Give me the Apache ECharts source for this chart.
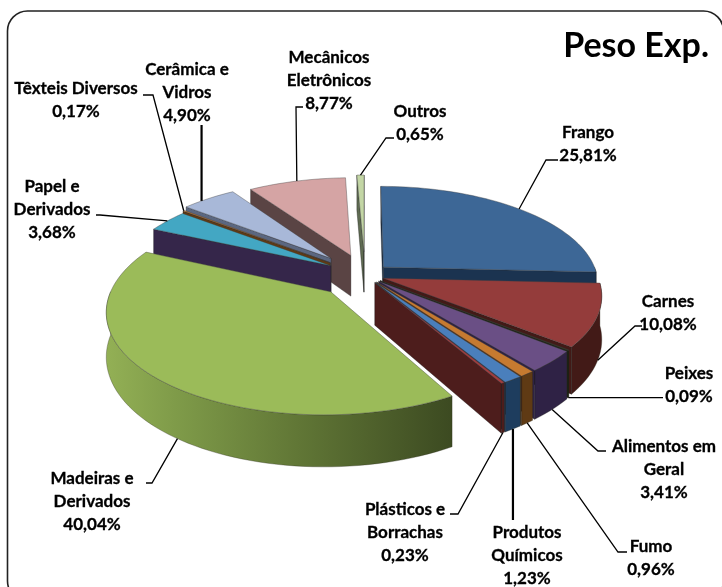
<!DOCTYPE html>
<html>
<head>
<meta charset="utf-8">
<style>
  html, body { margin: 0; padding: 0; background: #fff; }
  #chart { width: 722px; height: 587px; }
</style>
<script src="https://cdn.jsdelivr.net/npm/echarts@6/dist/echarts.min.js"></script>
</head>
<body>
<div id="chart"></div>
<script>
// slice order follows the pie clockwise from 12 o'clock
const categories = ['Frango', 'Carnes', 'Peixes', 'Alimentos em\nGeral', 'Fumo', 'Produtos\nQuímicos', 'Plásticos e\nBorrachas', 'Madeiras e\nDerivados', 'Papel e\nDerivados', 'Têxteis Diversos', 'Cerâmica e\nVidros', 'Mecânicos\nEletrônicos', 'Outros'];
const values = [25.81, 10.08, 0.09, 3.41, 0.96, 1.23, 0.23, 40.04, 3.68, 0.17, 4.90, 8.77, 0.65];
const valueLabels = ['25,81%', '10,08%', '0,09%', '3,41%', '0,96%', '1,23%', '0,23%', '40,04%', '3,68%', '0,17%', '4,90%', '8,77%', '0,65%'];

// styling, same order as above
const explode = [0.12, 0.09, 0.09, 0.09, 0.09, 0.09, 0.09, 0.23, 0.19, 0.21, 0.24, 0.22, 0.25];
const topColors = ['#3d6796', '#943c3b', '#2f3a22', '#6a4f85', '#c67a30', '#4a7fbc', '#a33c3c', '#9bbb59', '#43a7c3', '#c87a2e', '#a8b8d8', '#d5a4a4', '#c3d6a5'];
const outerColors = ['#1b3350', '#421a17', '#1d2414', '#2f2245', '#5f3a14', '#1e3d5e', '#4d1d1c', '#6a8038', '#1c6f85', '#5f3a14', '#5b6780', '#5a4444', '#5f6b52'];
const cutColors = ['#1b3350', '#421a17', '#1d2414', '#2f2245', '#5f3a14', '#1e3d5e', '#4d1d1c', '#6a8038', '#35264a', '#5f3a14', '#5b6780', '#5a4444', '#5f6b52'];
// back to front
const paintOrder = [12, 11, 10, 9, 8, 0, 1, 2, 3, 4, 5, 6, 7];

// label centre x, y of first line
const labelPos = [[588, 133], [668, 302], [689, 374], [664, 447], [651, 547], [527, 533], [405, 510], [92, 479], [52, 187], [76, 89], [187, 70], [329, 58], [420, 112]];
// leader line points going away from the slice, null = same x or y as the slice end
const leaderPts = [
  [[546, 160], [558, 160]],
  [[635, 326], [642, 326]],
  [[663, null]],
  [[598, 451], [606, 451]],
  [[618, 552], [627, 552]],
  [[null, 520]],
  [[458, 514], [450, 514]],
  [[152, 483], [146, 483]],
  [[100, 215], [96, 215]],
  [[153, 95], [143, 95]],
  [[null, 125]],
  [[296, 107], [303, 107]],
  [[386, 138], [394, 138]]
];
// where along the rim the leader starts, 0.5 = middle
const anchorAt = [0.5, 0.5, 0.5, 0.5, 0.5, 0.5, 0.5, 0.45, 0.5, 0.5, 0.35, 0.5, 0.5];
const heavyLeaders = [5, 10];

// pie projection, fitted to the tilted pie
const CX = 365, CY = 275, RX = 214, RY = 96.5, PERSP = 0.165, DEPTH = 42;

const total = values.reduce((a, b) => a + b, 0);
const startAngles = [];
values.reduce((acc, v, i) => {
  startAngles[i] = acc;
  return acc + v / total * 360;
}, 0);

function project(i, deg, r, low) {
  const rad = deg * Math.PI / 180;
  const s0 = startAngles[i] * Math.PI / 180;
  const mid = s0 + (values[i] / total * Math.PI);
  const u = r * Math.sin(rad) + explode[i] * Math.sin(mid);
  const v = r * Math.cos(rad) + explode[i] * Math.cos(mid);
  const w = 1 / (1 + PERSP * v);
  return [CX + RX * u * w, CY - RY * v * w + (low ? DEPTH * w : 0)];
}

function arcPoints(i, from, to, low) {
  const n = Math.max(2, Math.ceil((to - from) / 2));
  const pts = [];
  for (let k = 0; k <= n; k++) pts.push(project(i, from + (to - from) * k / n, 1, low));
  return pts;
}

function poly(points, fill, stroke, z2) {
  return {
    type: 'polygon',
    z2: z2,
    shape: { points: points },
    style: { fill: fill, stroke: stroke, lineWidth: 0.7, lineJoin: 'round' }
  };
}

function renderSlice(params, api) {
  const i = api.value(0);
  const sweep = api.value(1) / total * 360;
  const from = startAngles[i];
  const to = from + sweep;
  const order = paintOrder.indexOf(i) * 10;
  const kids = [];
  const apex = project(i, from, 0), apexLow = project(i, from, 0, true);

  // outer wall only where the rim faces us
  const wallFrom = Math.max(from, 90), wallTo = Math.min(to, 270);
  if (wallTo > wallFrom) {
    let fill = outerColors[i];
    if (i === 7) {
      fill = new echarts.graphic.LinearGradient(0, 0, 1, 0, [
        { offset: 0, color: '#93b055' },
        { offset: 0.2, color: '#7f9b49' },
        { offset: 0.55, color: '#617736' },
        { offset: 1, color: '#3c4a21' }
      ]);
    }
    const up = arcPoints(i, wallFrom, wallTo, false);
    const down = arcPoints(i, wallFrom, wallTo, true).reverse();
    kids.push(poly(up.concat(down), fill, 'rgba(40,40,30,0.45)', order + 1));
  }
  // cut faces
  if (Math.cos((from - 90) * Math.PI / 180) <= 0.01) {
    kids.push(poly([apex, project(i, from, 1), project(i, from, 1, true), apexLow], cutColors[i], 'rgba(20,20,20,0.5)', order + 2));
  }
  if (Math.cos((to + 90) * Math.PI / 180) <= 0.01) {
    kids.push(poly([apex, project(i, to, 1), project(i, to, 1, true), apexLow], cutColors[i], 'rgba(20,20,20,0.5)', order + 2));
  }
  // top face
  kids.push(poly([apex].concat(arcPoints(i, from, to, false)), topColors[i], 'rgba(60,60,60,0.55)', order + 3));

  return { type: 'group', children: kids };
}

function renderLabel(params, api) {
  const i = api.value(0);
  const at = startAngles[i] + api.value(1) / total * 360 * anchorAt[i];
  const start = project(i, at, 1, Math.cos(at * Math.PI / 180) < 0);
  const pts = [start].concat(leaderPts[i].map(p => [p[0] === null ? start[0] : p[0], p[1] === null ? start[1] : p[1]]));
  const pos = labelPos[i];
  return {
    type: 'group',
    children: [
      {
        type: 'polyline',
        z2: 200,
        shape: { points: pts },
        style: { fill: null, stroke: '#000', lineWidth: heavyLeaders.includes(i) ? 2.2 : 1.3 }
      },
      {
        type: 'text',
        z2: 201,
        x: pos[0],
        y: pos[1] - 11.5,
        style: {
          text: categories[i] + '\n' + valueLabels[i],
          fill: '#000',
          stroke: '#000',
          lineWidth: 0.3,
          font: 'bold 17px Lato, sans-serif',
          lineHeight: 22.7,
          align: 'center',
          verticalAlign: 'top'
        }
      }
    ]
  };
}

const rows = values.map((v, i) => [i, v]);

const chart = echarts.init(document.getElementById('chart'), null, { renderer: 'canvas' });
chart.setOption({
  animation: false,
  backgroundColor: '#fff',
  title: {
    text: 'Peso Exp.',
    right: 8,
    top: 24,
    textStyle: { color: '#000', fontFamily: 'Lato', fontWeight: 'bold', fontSize: 34 }
  },
  graphic: [{
    type: 'rect',
    silent: true,
    shape: { x: 7.5, y: 11, width: 716, height: 590, r: 20 },
    style: { fill: null, stroke: '#222', lineWidth: 1.6 }
  }],
  series: [
    { type: 'custom', coordinateSystem: 'none', renderItem: renderSlice, data: rows, silent: true, z: 2 },
    { type: 'custom', coordinateSystem: 'none', renderItem: renderLabel, data: rows, silent: true, z: 3 }
  ]
});
</script>
</body>
</html>
